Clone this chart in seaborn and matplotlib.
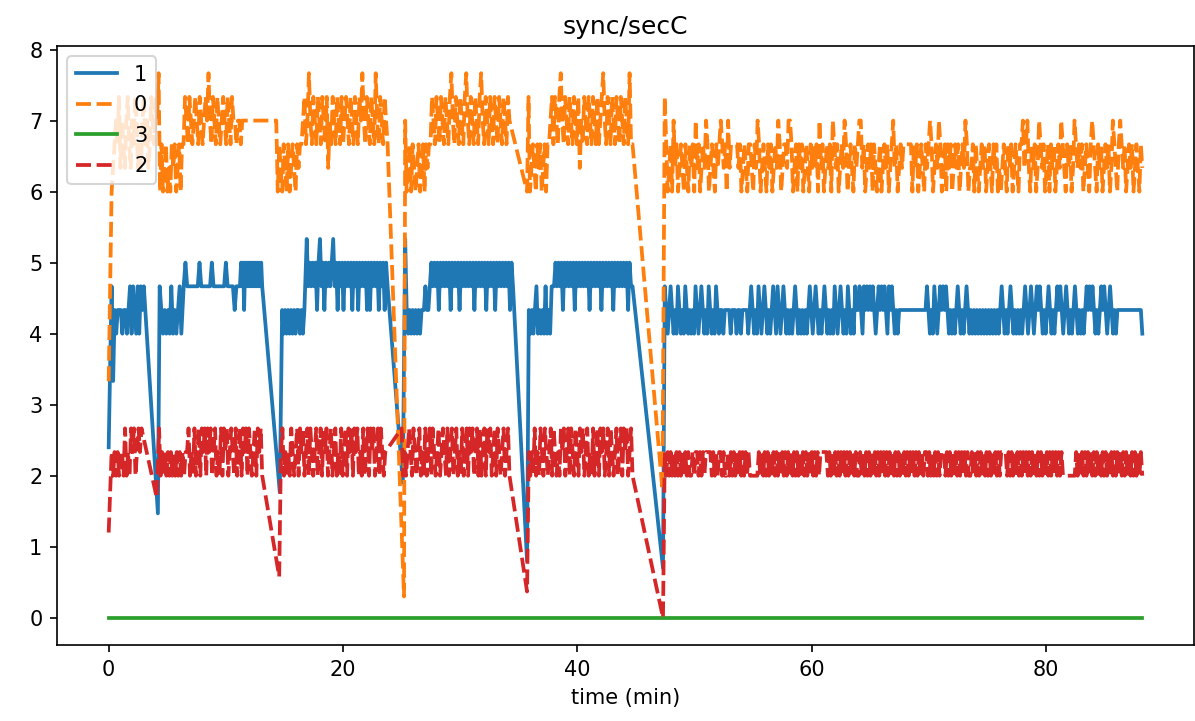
import numpy as np
import pandas as pd
import seaborn as sns
from matplotlib import pyplot as plt

# each sample is one character, value = int(char, 36) / 3  (c=4.0, d=4.33, e=4.67, ...)
# segments: (t_start, t_end, samples), samples evenly spaced in time
blue_segments = [
    (0.25, 3.0, "eadcdddcddcdecedcecede"),
    (4.35, 6.2, "edcdcdcecdcdec"),
    (6.4, 11.2, "efeeeeeeefeeeeeefeeeeeeefeeeedeee"),
    (11.3, 13.1, "fefdfefefefefefefefefe"),
    (14.8, 16.7, "dcdcdcdcdcddcdcd"),
    (16.9, 23.8, "gefefefdfgefdfefefgefdfefdfefefdfefdfefefdfdfefefdfefdfe"),
    (25.3, 26.7, "gdcdcdcdcdcd"),
    (26.9, 34.5, "deddefefefdfefefefdfefefdfefefefefdfefefefdfefefdfefefefefdfe"),
    (35.85, 37.8, "dcdcdecdcdcecdce"),
    (38.0, 44.7, "efefefdfefefefdfefefefefdfefefefdfefefefdfefefefefdfee"),
    (47.45, 88.2, "edcdedcdcedcdcedcd" "cdcedcdedcdcedcdcedc" "ddcddddcdddcddcddddc"
                  "dedcdcedcdedcdcdedcedcde" "dcdcdcdedcdcdcdcdedc" "dedcdcdedcdcdcedcdedcdcedcdced"
                  "dedcededededcdedededcededcdcd" "dddddddddddddddddd" "edcdcedcdedededcdcdcdedcdcdedc"
                  "dcdcdcdcdcdcdcdcdcdc" "dedcdcdedcdcdc" "dcdedcdedcdededcdcdedcdcdededcdedcdcdedc"
                  "dcdcdedededcdcdededcdedcdcdd" "dddddddddddddddc"),
]
blue_points = [(0.0, 2.4), (4.2, 1.47), (14.6, 1.77), (25.1, 1.9), (35.7, 0.8), (47.3, 0.7)]

orange_segments = [
    (0.25, 11.4, "ijklkmjlkjlmkjlkmljkjlmkljkmlkmln" "ikijkijikjkijkik"
                 "kmlkmlklmlkmlklmlnlkmlkmlklmlkmlkmllkllkl"),
    (14.3, 23.8, "l" "ikjikjikijkjikjk"
                 "klmklnlkmlkmlkmlkmjlkmlkmlkmklmlkmlkmlkmlnlkmlkmlknlkmlkmlk"),
    (25.3, 34.2, "l" "ijkikjijkijkikjk"
                 "kmlkmlkmlkmlkmnlkmlkmlkmnlkmlkmlkmnlkmlkmlkmlkmlkmlkml"),
    (35.7, 44.7, "imijkjikjkijkik"
                 "klmkmlkmnlkmlkmlkmlkmjlkmlkmlkmlkmklmnlkmlkmlkmlkmlkmlknkk"),
    (47.45, 88.2, "mkijkiljkijkjikjik" "jkiljkijkjlkijkjikjk" "lkjkiljkkkkkjkijkjik"
                  "kjikjlkijkjikjkijkjlkijk" "kjllkijkikjkijkjikjk" "jkiljkijkjkilkjkijkjlkijkjikjk"
                  "lljkijkjkikjijkijkjkijkljkij" "kjkkkkkkikjkijkjik" "jklkijkjlkijkikjkijkjkijkjlkij"
                  "jkikjijkjkijkjikjkij" "ijkjikjkijkjik" "kljkljikjkijlkjkijkikjkijkjlkjikjkijlkj"
                  "kjkijkjiklkjikjkijkjkijlkjik" "lkjkijkjkijkjikj"),
]
orange_points = [(0.0, 3.33), (25.2, 0.3), (47.25, 1.8)]

green_points = [(0.0, 0.0), (88.2, 0.0)]

red_segments = [
    (0.25, 2.8, "767676776867687867878"),
    (4.3, 13.1, "8676767676767676767" "7867686786878687867867686878678768678687868767868786"),
    (14.7, 23.6, "786767687678687867868767867868786786786768678687868786768678687867868767"),
    (25.0, 34.2, "86767876876786768678687678678768678678676867868786786867868786786876786786"),
    (35.85, 44.7, "767686768768767868767687867868768768786786768678687867868767867868786786"),
    (47.45, 88.2, "767676767676767676" "67677676767777676767" "76766767676767676767"
                  "666666767676767676767676" "76767676767676767676" "767677777676767676767676767676"
                  "6767676767676767676767676767" "676767676767676767" "767676767677767676767676767676"
                  "67676767676767676767" "67777676767676" "7676767676767676767676767676766666666676"
                  "7676767676767676767676767676" "7676767676767676"),
]
red_points = [(0.0, 1.2), (4.1, 1.69), (14.55, 0.58), (35.7, 0.37), (47.3, 0.0)]

series_order = ["1", "0", "3", "2"]


def decode(segments, points):
    t, v = [], []
    for t0, t1, samples in segments:
        t.extend(np.linspace(t0, t1, len(samples)))
        v.extend(int(c, 36) / 3 for c in samples)
    for tp, vp in points:
        t.append(tp)
        v.append(vp)
    return t, v


def build_frame():
    frames = []
    for name, segs, pts in [("1", blue_segments, blue_points),
                            ("0", orange_segments, orange_points),
                            ("3", [], green_points),
                            ("2", red_segments, red_points)]:
        t, v = decode(segs, pts)
        df = pd.DataFrame({"time": t, "value": v, "series": name})
        frames.append(df.sort_values("time"))
    return pd.concat(frames, ignore_index=True)


df = build_frame()

fig = plt.figure(figsize=(1195 / 150, 721 / 150), dpi=150)
ax = fig.add_axes([57 / 1195, 76 / 721, 1137 / 1195, 599 / 721])
sns.lineplot(data=df, x="time", y="value", hue="series", style="series",
             hue_order=series_order, style_order=series_order,
             dashes={"1": "", "0": (4, 1.5), "3": "", "2": (4, 1.5)},
             estimator=None, linewidth=1.8, ax=ax)
sns.move_legend(ax, "upper left", title=None)
ax.set_title("sync/secC")
ax.set_xlabel("time (min)")
ax.set_ylabel("")
fig.savefig("out.png", dpi=150)
